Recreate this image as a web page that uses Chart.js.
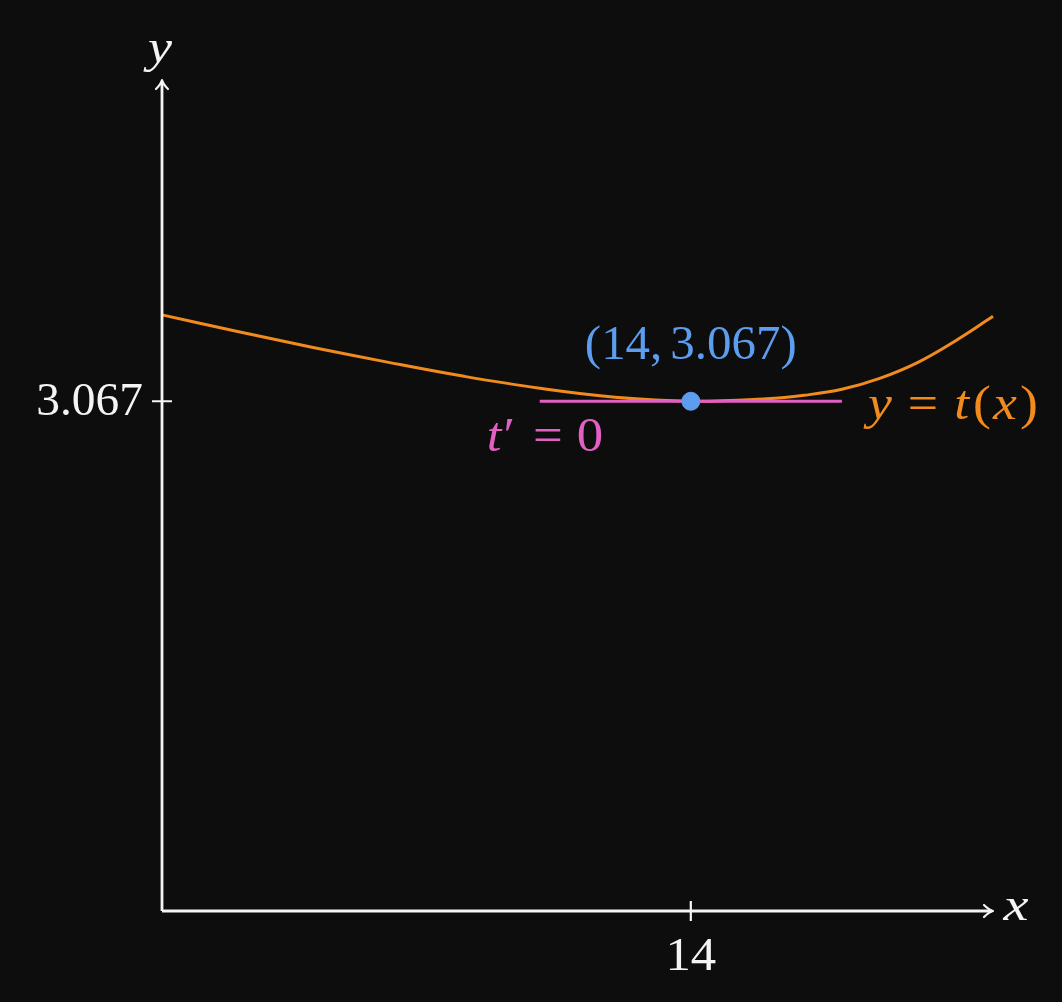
<!DOCTYPE html>
<html>
<head>
<meta charset="utf-8">
<script src="https://cdn.jsdelivr.net/npm/chart.js@4"></script>
<style>
  html, body { margin: 0; padding: 0; background: #0d0d0d; }
  #wrap { width: 1062px; height: 1002px; }
</style>
</head>
<body>
<div id="wrap"><canvas id="chart"></canvas></div>
<script>
// curve y = t(x)
const curveX = [0, 2, 4, 6, 8, 10, 12, 14, 16, 17, 18, 19, 20, 21, 22];
const curveY = [3.587, 3.487, 3.391, 3.301, 3.217, 3.145, 3.091, 3.067, 3.082, 3.103, 3.139, 3.205, 3.300, 3.430, 3.578];
// tangent t' = 0 at the minimum
const tangentX = [10, 18];
const minX = 14;
const minY = 3.067;
// axis ticks
const xTicks = [14];
const xTickLabels = ["14"];
const yTicks = [3.067];
const yTickLabels = ["3.067"];

const orange = "#f28b1d";
const pink = "#e25fc4";
const blue = "#5c9df0";
const white = "#f4f4f4";
const serif = "'Liberation Serif', 'DejaVu Serif', serif";

// draws runs [text, italic, gapAfter] anchored at (x, y), glyphs stretched a bit wider
function drawRuns(ctx, runs, x, y, size, color, align, stretch) {
  stretch = stretch || 1.08;
  ctx.save();
  ctx.fillStyle = color;
  ctx.textBaseline = "middle";
  ctx.textAlign = "left";
  const widths = runs.map(r => {
    ctx.font = (r[1] ? "italic " : "") + size + "px " + serif;
    return ctx.measureText(r[0]).width * stretch + (r[2] || 0);
  });
  const w = widths.reduce((a, b) => a + b, 0);
  let cx = align === "left" ? x : (align === "right" ? x - w : x - w / 2);
  runs.forEach((r, i) => {
    ctx.font = (r[1] ? "italic " : "") + size + "px " + serif;
    ctx.save();
    ctx.translate(cx, y);
    ctx.scale(stretch, 1);
    ctx.fillText(r[0], 0, 0);
    ctx.restore();
    cx += widths[i];
  });
  ctx.restore();
}

const axesPlugin = {
  id: "axes",
  afterDatasetsDraw(chart) {
    const ctx = chart.ctx;
    const xs = chart.scales.x, ys = chart.scales.y;
    const x0 = xs.getPixelForValue(0), y0 = ys.getPixelForValue(0);
    const xEnd = xs.getPixelForValue(xs.max), yEnd = ys.getPixelForValue(ys.max);
    ctx.save();
    ctx.strokeStyle = white;
    ctx.lineWidth = 2.8;
    ctx.lineCap = "butt";
    ctx.beginPath();
    ctx.moveTo(x0, y0); ctx.lineTo(xEnd - 1, y0);
    ctx.moveTo(x0, y0); ctx.lineTo(x0, yEnd + 1);
    ctx.stroke();
    // arrow heads
    ctx.lineWidth = 2.2;
    ctx.lineCap = "round";
    ctx.lineJoin = "round";
    ctx.beginPath();
    ctx.moveTo(xEnd - 9, y0 - 6); ctx.quadraticCurveTo(xEnd - 4, y0 - 1, xEnd, y0);
    ctx.quadraticCurveTo(xEnd - 4, y0 + 1, xEnd - 9, y0 + 6);
    ctx.moveTo(x0 - 6, yEnd + 9); ctx.quadraticCurveTo(x0 - 1, yEnd + 4, x0, yEnd);
    ctx.quadraticCurveTo(x0 + 1, yEnd + 4, x0 + 6, yEnd + 9);
    ctx.stroke();
    // ticks
    ctx.lineWidth = 2.2;
    ctx.lineCap = "butt";
    ctx.beginPath();
    xTicks.forEach(v => {
      const p = xs.getPixelForValue(v);
      ctx.moveTo(p, y0 - 10); ctx.lineTo(p, y0 + 10);
    });
    yTicks.forEach(v => {
      const p = ys.getPixelForValue(v);
      ctx.moveTo(x0 - 10, p); ctx.lineTo(x0 + 10, p);
    });
    ctx.stroke();
    ctx.restore();

    xTicks.forEach((v, i) => drawRuns(ctx, [[xTickLabels[i], false]], xs.getPixelForValue(v), y0 + 47, 47, white, "center"));
    yTicks.forEach((v, i) => drawRuns(ctx, [[yTickLabels[i], false]], x0 - 19, ys.getPixelForValue(v) + 1, 47, white, "right", 1.01));

    // axis names
    drawRuns(ctx, [["y", true]], x0 - 2, yEnd - 30, 47, white, "center", 1.15);
    drawRuns(ctx, [["x", true]], xEnd + 23, y0 - 3, 47, white, "center", 1.2);

    // annotations
    const px = xs.getPixelForValue(minX), py = ys.getPixelForValue(minY);
    drawRuns(ctx, [["(14,", false, 8], ["3.067)", false]], px, py - 55, 48, blue, "center", 1.02);
    drawRuns(ctx, [["t", true, 2], ["\u2032", false, 18], ["=", false, 14], ["0", false]],
      545, py + 37, 48, pink, "center", 1.1);
    drawRuns(ctx, [["y", true, 16], ["=", false, 16], ["t", true, 4], ["(", false, 2], ["x", true, 3], [")", false]],
      868, py + 5, 48, orange, "left", 1.12);
  }
};

const ctx = document.getElementById("chart").getContext("2d");
const data = {
  datasets: [
    {
      label: "t(x)",
      data: curveX.map((x, i) => ({ x: x, y: curveY[i] })),
      borderColor: orange,
      borderWidth: 3,
      pointRadius: 0,
      showLine: true,
      tension: 0.4,
      clip: false,
      order: 3
    },
    {
      label: "tangent",
      data: tangentX.map(x => ({ x: x, y: minY })),
      borderColor: pink,
      borderWidth: 3,
      pointRadius: 0,
      showLine: true,
      clip: false,
      order: 2
    },
    {
      label: "point",
      data: [{ x: minX, y: minY }],
      backgroundColor: blue,
      borderColor: blue,
      pointRadius: 9,
      showLine: false,
      clip: false,
      order: 1
    }
  ]
};
const config = {
  type: "scatter",
  data: data,
  options: {
    responsive: true,
    maintainAspectRatio: false,
    animation: false,
    layout: { padding: { left: 162, right: 69, top: 80, bottom: 91 } },
    plugins: { legend: { display: false }, tooltip: { enabled: false } },
    scales: {
      x: { type: "linear", min: 0, max: 22, display: false },
      y: { type: "linear", min: 0, max: 5, display: false }
    }
  },
  plugins: [axesPlugin]
};

const chart = new Chart(ctx, config);
</script>
</body>
</html>
